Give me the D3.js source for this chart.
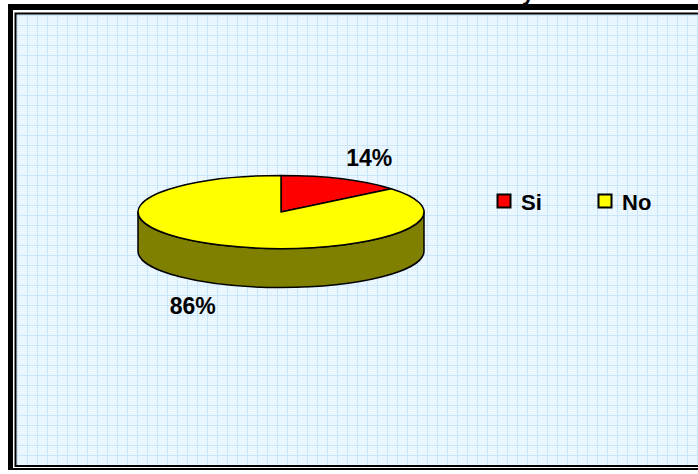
<!DOCTYPE html>
<html>
<head>
<meta charset="utf-8">
<script src="https://cdn.jsdelivr.net/npm/d3@7"></script>
<style>
  html, body { margin: 0; padding: 0; background: #fff; }
  svg { display: block; }
  text { font-family: "Liberation Sans", Arial, sans-serif; font-weight: bold; }
</style>
</head>
<body>
<svg width="698" height="474"></svg>
<script>
'use strict';

const categories = ["Si", "No"];
const values = [14, 86];
const labels = ["14%", "86%"];
const topColors = ["#ff0000", "#ffff00"];
const sideColors = ["#800000", "#808000"];

const W = 698, H = 474;
const svg = d3.select("svg");

// graph-paper background pattern
const defs = svg.append("defs");
const pat = defs.append("pattern")
  .attr("id", "grid")
  .attr("patternUnits", "userSpaceOnUse")
  .attr("x", 17).attr("y", 15)
  .attr("width", 10).attr("height", 10);
pat.append("rect").attr("width", 10).attr("height", 10).attr("fill", "#eef8ff");
for (let i = 0; i < 10; i += 2) {
  for (let j = 0; j < 10; j += 2) {
    pat.append("rect").attr("x", i + (j % 4 ? 1 : 0)).attr("y", j)
      .attr("width", 1).attr("height", 1).attr("fill", "#ddf0ff");
  }
}
pat.append("rect").attr("x", 0).attr("y", 0).attr("width", 1).attr("height", 10).attr("fill", "#c9e5fc");
pat.append("rect").attr("x", 0).attr("y", 0).attr("width", 10).attr("height", 1).attr("fill", "#c9e5fc");

// cut-off title fragment above the frame
svg.append("text").attr("x", 522).attr("y", 0).attr("font-size", 22).text("y");

// frame: thick outer border, thin inner border
svg.append("rect").attr("x", 8).attr("y", 4).attr("width", W).attr("height", 466).attr("fill", "#000");
svg.append("rect").attr("x", 13).attr("y", 10).attr("width", W).attr("height", 458).attr("fill", "#fff");
svg.append("rect").attr("x", 15.5).attr("y", 13.5).attr("width", W).attr("height", 452.5)
  .attr("fill", "url(#grid)").attr("stroke", "#000").attr("stroke-width", 2);

// 3D pie
const cx = 281, cy = 212, rx = 143, ry = 36.5, depth = 39;
const deg = Math.PI / 180;
const pt = (a, dy = 0) => [cx + rx * Math.sin(a), cy - ry * Math.cos(a) + dy];

const pie = d3.pie().sort(null).value(d => d)(values);

const pieG = svg.append("g");

// side walls (front half only: 90..270 deg clockwise from top)
pie.forEach((s, i) => {
  const a0 = Math.max(s.startAngle, 90 * deg);
  const a1 = Math.min(s.endAngle, 270 * deg);
  if (a1 <= a0) return;
  const p0 = pt(a0), p1 = pt(a1), q1 = pt(a1, depth), q0 = pt(a0, depth);
  const large = a1 - a0 > Math.PI ? 1 : 0;
  pieG.append("path")
    .attr("d", `M${p0}A${rx},${ry} 0 ${large} 1 ${p1}L${q1}A${rx},${ry} 0 ${large} 0 ${q0}Z`)
    .attr("fill", sideColors[i])
    .attr("stroke", "#000").attr("stroke-width", 1.5).attr("stroke-linejoin", "round");
});

// top faces
pie.forEach((s, i) => {
  const p0 = pt(s.startAngle), p1 = pt(s.endAngle);
  const large = s.endAngle - s.startAngle > Math.PI ? 1 : 0;
  pieG.append("path")
    .attr("d", `M${cx},${cy}L${p0}A${rx},${ry} 0 ${large} 1 ${p1}Z`)
    .attr("fill", topColors[i])
    .attr("stroke", "#000").attr("stroke-width", 1.5).attr("stroke-linejoin", "round");
});

// percentage labels
pie.forEach((s, i) => {
  const m = (s.startAngle + s.endAngle) / 2;
  const front = Math.cos(m) < 0;
  const x = cx + 1.45 * rx * Math.sin(m);
  const y = cy - 1.65 * ry * Math.cos(m) + (front ? depth : 0);
  svg.append("text")
    .attr("x", x).attr("y", y).attr("dy", "0.36em")
    .attr("text-anchor", "middle")
    .attr("font-size", 23)
    .text(labels[i]);
});

// legend
const legX = d3.scalePoint().domain(categories).range([497, 598]);
const leg = svg.append("g").selectAll("g").data(categories).join("g")
  .attr("transform", d => `translate(${legX(d)},194)`);
leg.append("rect")
  .attr("x", 0.5).attr("y", 0.5).attr("width", 13).attr("height", 13)
  .attr("fill", (d, i) => topColors[i]).attr("stroke", "#000").attr("stroke-width", 2);
leg.append("text")
  .attr("x", 24).attr("y", 15.5)
  .attr("font-size", 22)
  .text(d => d);
</script>
</body>
</html>
